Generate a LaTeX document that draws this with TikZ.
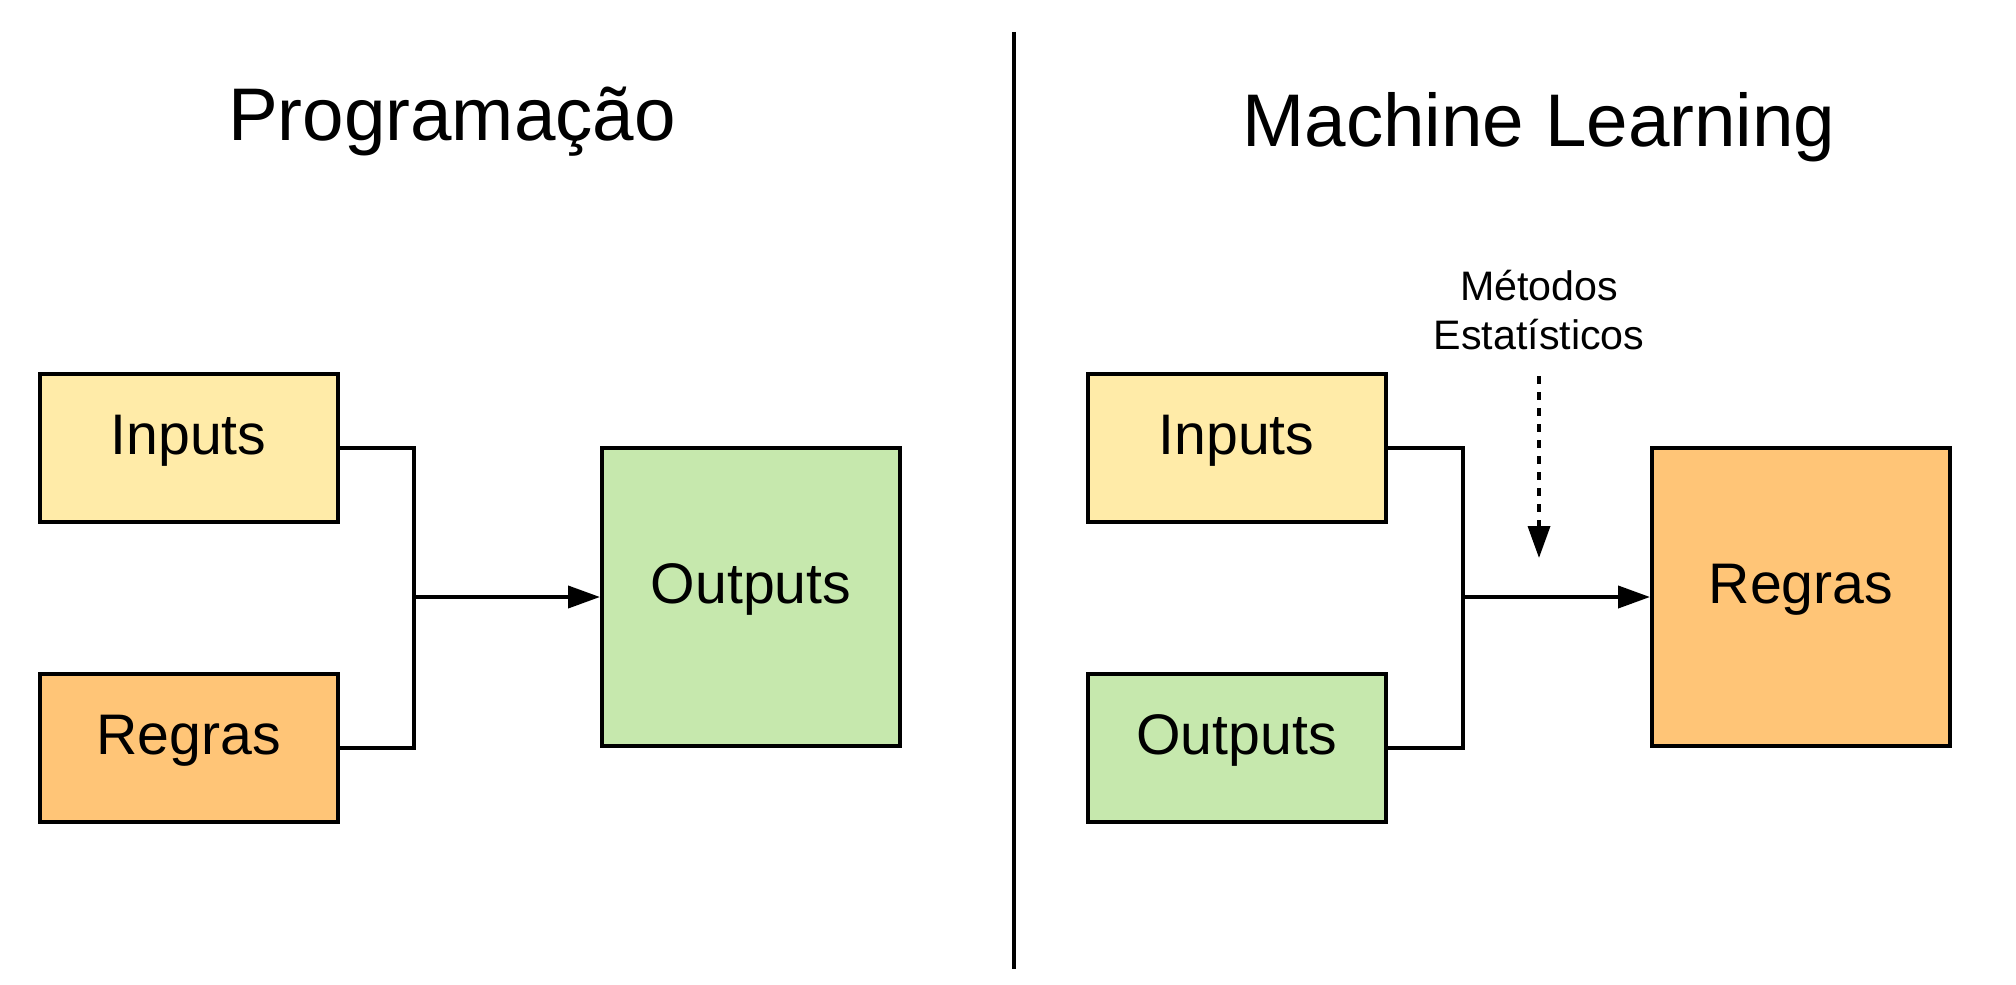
\documentclass[tikz,border=0pt]{standalone}
\usepackage{fontspec}
\setmainfont{Liberation Sans}
\usetikzlibrary{arrows.meta}

\definecolor{inyellow}{HTML}{FFEBA8}
\definecolor{ruleorange}{HTML}{FFC577}
\definecolor{outgreen}{HTML}{C6E8AD}

\begin{document}
\begin{tikzpicture}
  [x=0.5pt,y=-0.5pt,line width=2pt,
   box/.style={draw=black,rectangle,minimum width=149pt,minimum height=74pt,inner sep=0pt,
     text height=0.86em,text depth=0.2em,font=\fontsize{28.6}{34}\selectfont},
   bigbox/.style={box,minimum height=149pt},
   title/.style={anchor=base,inner sep=0pt,font=\fontsize{37.3}{44}\selectfont},
   flow/.style={-{Triangle[length=16pt,width=11pt]}}]
  \useasboundingbox (0,0) rectangle (2016,984);

  % titles
  \node[title] (t1) at (452,141) {Programação};
  \node[title] (t2) at (1539,147) {Machine Learning};

  % divider
  \coordinate (d1) at (1014,32);
  \coordinate (d2) at (1014,969);
  \draw (d1) -- (d2);

  % left side
  \node[box,fill=inyellow] (inL) at (188.5,448) {Inputs};
  \node[box,fill=ruleorange] (reL) at (188.5,748) {Regras};
  \node[bigbox,fill=outgreen] (outL) at (751,597) {Outputs};
  \coordinate (jL) at (414,597);

  \draw (inL.east) -| (jL) |- (reL.east);
  \draw[flow] (jL) -- (outL.west);

  % right side
  \node[box,fill=inyellow] (inR) at (1236.5,448) {Inputs};
  \node[box,fill=outgreen] (outR) at (1236.5,748) {Outputs};
  \node[bigbox,fill=ruleorange] (reR) at (1801,597) {Regras};
  \coordinate (jR) at (1463,597);

  \draw (inR.east) -| (jR) |- (outR.east);
  \draw[flow] (jR) -- (reR.west);

  \node[align=center,inner sep=0pt,font=\fontsize{20.6}{24.5}\selectfont] (met) at (1539,310) {Métodos\\Estatísticos};
  \coordinate (m1) at (1539,376);
  \coordinate (m2) at (1539,558);
  \draw[flow,line width=1.8pt,dash pattern=on 4pt off 4pt] (m1) -- (m2);
\end{tikzpicture}
\end{document}
